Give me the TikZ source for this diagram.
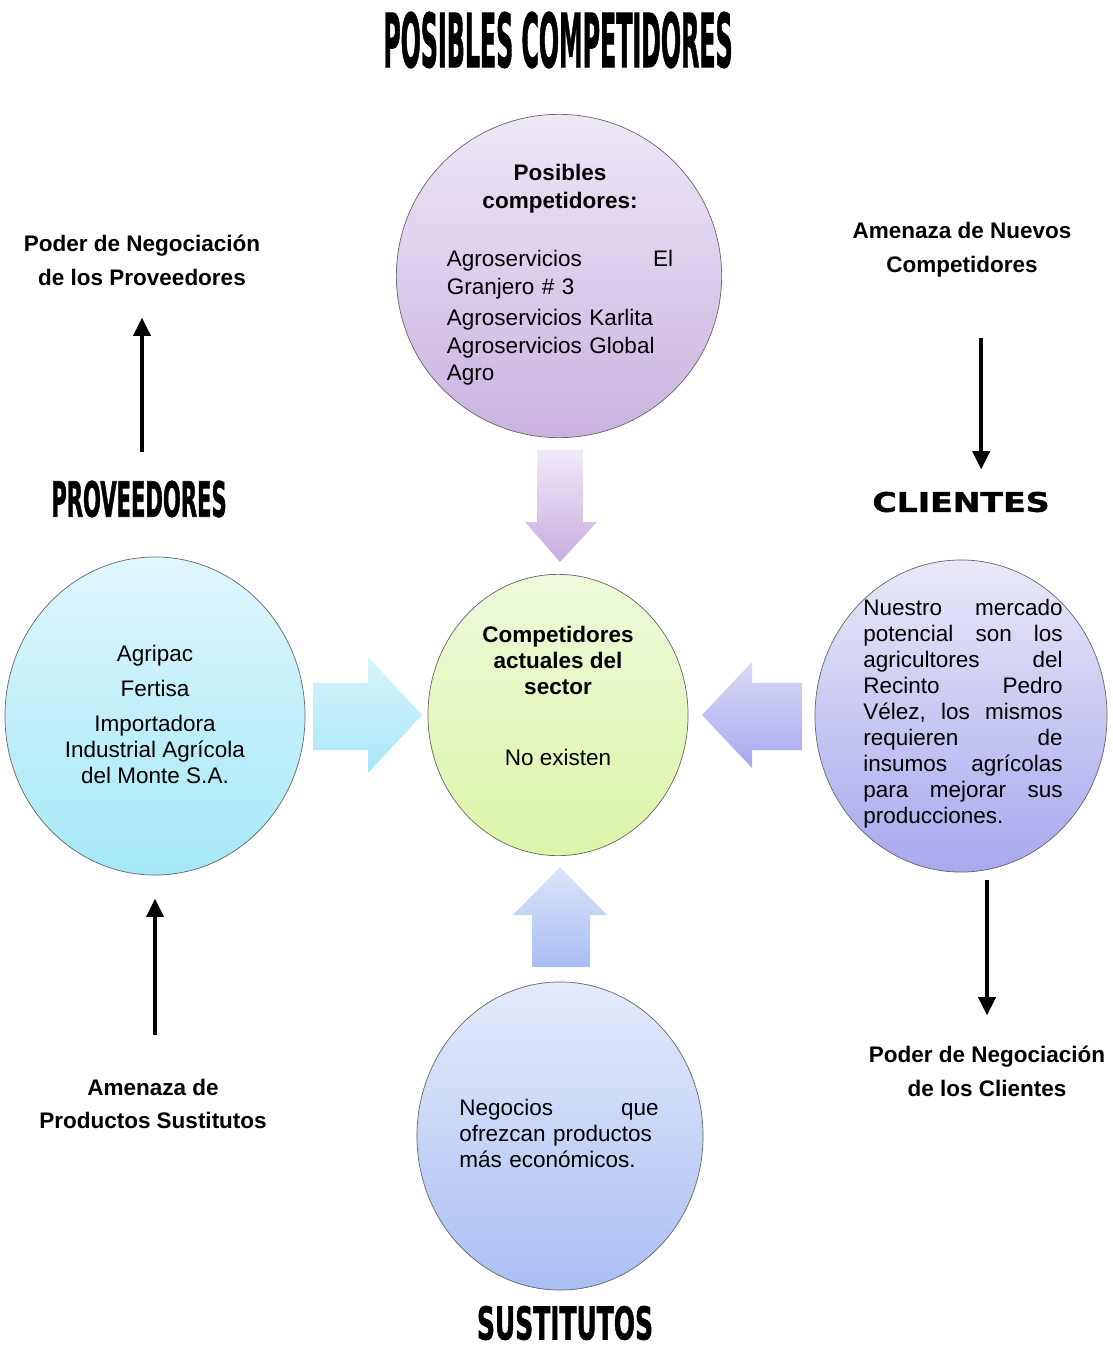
\documentclass[tikz,border=0pt]{standalone}
\usepackage{graphicx}
\usepackage{fontspec}
\setmainfont{Liberation Sans}
\newfontfamily\heavyfont[FakeBold=1.5]{DejaVu Sans Condensed Bold}
\newfontfamily\blackfont[FakeBold=1.5]{DejaVu Sans Bold}
\usetikzlibrary{shapes.geometric,arrows.meta}

\definecolor{pcTop}{HTML}{EEE8F6}
\definecolor{pcBot}{HTML}{C9B2E1}
\definecolor{caTop}{HTML}{EEF9DB}
\definecolor{caBot}{HTML}{DCF5A8}
\definecolor{provTop}{HTML}{DFF6FC}
\definecolor{provBot}{HTML}{A5E8F8}
\definecolor{cliTop}{HTML}{E9E9F8}
\definecolor{cliBot}{HTML}{A8A8EE}
\definecolor{sustTop}{HTML}{E5EBFB}
\definecolor{sustBot}{HTML}{A9BEF3}
\definecolor{dnTop}{HTML}{F0EAF7}
\definecolor{dnBot}{HTML}{C6ADE0}
\definecolor{rtTop}{HTML}{D8F4FB}
\definecolor{rtBot}{HTML}{A8E7F8}
\definecolor{ltTop}{HTML}{D8D8F6}
\definecolor{ltBot}{HTML}{A9A9EE}
\definecolor{upTop}{HTML}{DDE5FA}
\definecolor{upBot}{HTML}{A7BDF2}

\tikzset{
  bubble/.style={ellipse, draw=black!60, line width=0.5pt, inner sep=0pt},
  body/.style={font=\fontsize{16}{18.5}\selectfont, inner sep=0pt},
  lbl/.style={font=\fontsize{16}{24}\selectfont\bfseries, align=center, inner sep=0pt},
  heading/.style={inner sep=0pt},
  force/.style={line width=2.8pt, -{Triangle[width=12pt,length=13pt]}}
}

\begin{document}
\begin{tikzpicture}[x=0.025cm,y=-0.025cm]
    \useasboundingbox (0,0) rectangle (1112,1353);
    %% Headings
    \node[heading] (postitle) at (558,40) {\resizebox{8.73cm}{1.38cm}{\heavyfont POSIBLES COMPETIDORES}};
    \node[heading] (provtitle) at (139,499) {\resizebox{4.38cm}{0.9cm}{\heavyfont PROVEEDORES}};
    \node[heading] (clititle) at (961,502) {\resizebox{4.43cm}{0.5cm}{\blackfont CLIENTES}};
    \node[heading] (susttitle) at (565,1323) {\resizebox{4.4cm}{0.84cm}{\heavyfont SUSTITUTOS}};

    %% Circles
    \node[bubble, top color=pcTop, bottom color=pcBot, minimum width=8.13cm, minimum height=8.08cm] (pc) at (559,276) {};
    \node[bubble, top color=caTop, bottom color=caBot, minimum width=6.5cm, minimum height=7.03cm] (ca) at (558,715) {};
    \node[bubble, top color=provTop, bottom color=provBot, minimum width=7.5cm, minimum height=7.95cm] (prov) at (155,716) {};
    \node[bubble, top color=cliTop, bottom color=cliBot, minimum width=7.3cm, minimum height=7.8cm] (cli) at (961,716) {};
    \node[bubble, top color=sustTop, bottom color=sustBot, minimum width=7.15cm, minimum height=7.7cm] (sust) at (560,1136) {};

    %% Texts inside the circles
    \node[body, text width=5.65cm, font=\fontsize{16}{19.5}\selectfont] (pctxt) at (560,275) {%
        {\centering\bfseries Posibles\\competidores:\par}\vspace{22pt}
        Agroservicios\hfill El\\Granjero \# 3\par\vspace{3pt}
        Agroservicios Karlita\\Agroservicios Global\\Agro};
    \node[body, align=center] (catxt) at (558,696) {%
        \bfseries Competidores\\\bfseries actuales del\\\bfseries sector\\[32pt]No existen};
    \node[body, align=center] (provtxt) at (155,714) {%
        Agripac\\[6.4pt]Fertisa\\[6.4pt]Importadora\\Industrial Agrícola\\del Monte S.A.};
    \node[body, text width=4.98cm] (clitxt) at (963,714) {%
        Nuestro\hfill mercado\\potencial\hfill son\hfill los\\agricultores\hfill del\\
        Recinto\hfill Pedro\\Vélez,\hfill los\hfill mismos\\requieren\hfill de\\
        insumos\hfill agrícolas\\para\hfill mejorar\hfill sus\\producciones.};
    \node[body, text width=4.98cm] (susttxt) at (559,1133) {%
        Negocios\hfill que\\ofrezcan productos\\más económicos.};

    %% Block arrows towards the centre
    \path[top color=dnTop, bottom color=dnBot] (537,450) -- (583,450) -- (583,522) -- (597,522)
        -- (560,562) -- (525,522) -- (537,522) -- cycle;
    \path[top color=rtTop, bottom color=rtBot] (313,683) -- (368,683) -- (368,657) -- (422,715)
        -- (368,773) -- (368,750) -- (313,750) -- cycle;
    \path[top color=ltTop, bottom color=ltBot] (802,683) -- (752,683) -- (752,662) -- (702,715)
        -- (752,768) -- (752,750) -- (802,750) -- cycle;
    \path[top color=upTop, bottom color=upBot] (560,867) -- (607,915) -- (590,915) -- (590,967)
        -- (532,967) -- (532,915) -- (513,915) -- cycle;

    %% Forces
    \node[lbl] (provlbl) at (142,260) {Poder de Negociación\\de los Proveedores};
    \node[lbl] (nuevlbl) at (962,250) {Amenaza de Nuevos\\Competidores};
    \node[lbl] (sustlbl) at (153,1104) {Amenaza de\\Productos Sustitutos};
    \node[lbl] (clilbl) at (987,1071) {Poder de Negociación\\de los Clientes};

    \draw[force, shorten <=0.7cm, shorten >=0.8cm] (provtitle.north -| provlbl.south) -- (provlbl.south);
    \draw[force, shorten <=1.5cm, shorten >=0.55cm] ([xshift=0.48cm]nuevlbl.south) -- ([xshift=0.48cm]nuevlbl.south |- clititle.north);
    \draw[force, shorten <=1.1cm, shorten >=0.58cm] (sustlbl.north -| prov.south) -- (prov.south);
    \draw[force, shorten <=0.2cm, shorten >=0.75cm] (cli.south -| clilbl.north) -- (clilbl.north);
\end{tikzpicture}
\end{document}
